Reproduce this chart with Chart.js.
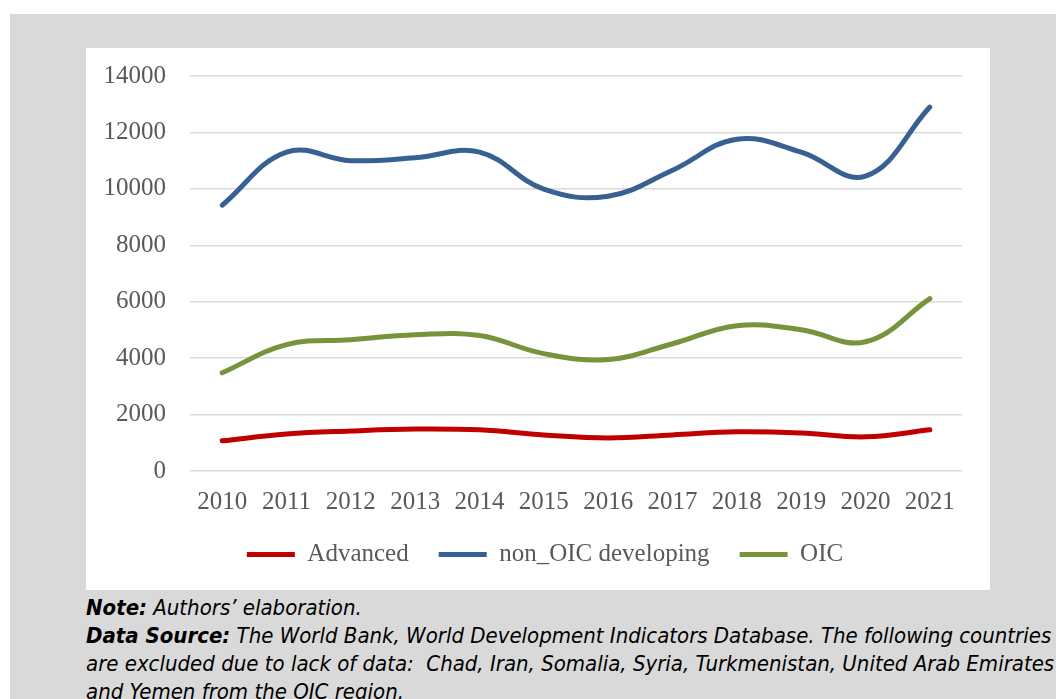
<!DOCTYPE html>
<html>
<head>
<meta charset="utf-8">
<script src="https://cdn.jsdelivr.net/npm/chart.js@4"></script>
<style>
  html, body { margin: 0; padding: 0; background: #ffffff; }
  body { width: 1056px; height: 699px; position: relative; overflow: hidden; }
  #frame { position: absolute; left: 10px; top: 14px; width: 1100px; height: 720px; background: #d9d9d9; }
  #box { position: absolute; left: 86px; top: 48px; width: 904px; height: 542px; background: #ffffff; }
  #note { position: absolute; left: 86px; top: 594px; width: 1000px; white-space: nowrap;
          font-family: "Liberation Sans Narrow", "DejaVu Sans Condensed", sans-serif;
          font-style: italic; font-size: 22px; line-height: 28px; color: #000; }
  #note b { font-weight: bold; }
</style>
</head>
<body>
<div id="frame"></div>
<div id="box"><canvas id="myChart" width="904" height="542"></canvas></div>
<div id="note">
  <div><b>Note:</b> Authors’ elaboration.</div>
  <div><b>Data Source:</b> The World Bank, World Development Indicators Database. The following countries</div>
  <div>are excluded due to lack of data:&nbsp; Chad, Iran, Somalia, Syria, Turkmenistan, United Arab Emirates</div>
  <div>and Yemen from the OIC region.</div>
</div>
<script>
const years = ['2010', '2011', '2012', '2013', '2014', '2015', '2016', '2017', '2018', '2019', '2020', '2021'];
const advanced = [1070, 1310, 1420, 1490, 1460, 1280, 1170, 1280, 1390, 1350, 1210, 1460];
const nonOicDeveloping = [9420, 11300, 11000, 11100, 11300, 9990, 9740, 10660, 11760, 11300, 10450, 12900];
const oic = [3480, 4480, 4650, 4830, 4800, 4160, 3950, 4510, 5150, 5010, 4580, 6110];

const ctx = document.getElementById('myChart').getContext('2d');
const font = { family: '"Liberation Serif", serif', size: 25 };

// same look for every series, only the colour changes
function series(label, data, color) {
    return {
        label: label,
        data: data,
        borderColor: color,
        backgroundColor: color,
        borderWidth: 5,
        borderCapStyle: 'round',
        tension: 0.4,
        fill: false,
        pointRadius: 0,
        pointHoverRadius: 0
    };
}

// nudge the legend row a bit to the right, like in the original figure
const legendShift = {
    id: 'legendShift',
    afterLayout(chart) {
        chart.legend.left += 21;
        chart.legend.right += 21;
    }
};

new Chart(ctx, {
    type: 'line',
    data: {
        labels: years,
        datasets: [
            series('Advanced', advanced, '#c00000'),
            series('non_OIC developing', nonOicDeveloping, '#386192'),
            series('OIC', oic, '#77933c')
        ]
    },
    options: {
        responsive: false,
        animation: false,
        layout: { padding: { left: 0, right: 28, top: 28, bottom: 13 } },
        scales: {
            x: {
                offset: true,
                afterFit(scale) { scale.height -= 21; },
                grid: { display: false, drawTicks: false },
                border: { display: false },
                ticks: { color: '#595959', font: font, padding: 16, maxRotation: 0 }
            },
            y: {
                min: 0,
                max: 14000,
                afterFit(scale) { scale.width = 104; },
                grid: { color: '#d9d9d9', lineWidth: 1.5, drawTicks: true, tickLength: 24, tickColor: 'rgba(0,0,0,0)' },
                border: { display: false },
                ticks: {
                    stepSize: 2000,
                    color: '#595959',
                    font: font,
                    padding: 0,
                    callback: (v) => String(v)
                }
            }
        },
        plugins: {
            legend: {
                position: 'bottom',
                labels: {
                    usePointStyle: true,
                    pointStyle: 'line',
                    pointStyleWidth: 48,
                    color: '#595959',
                    font: font,
                    padding: 30
                }
            },
            tooltip: { enabled: false }
        }
    },
    plugins: [legendShift]
});
</script>
</body>
</html>
